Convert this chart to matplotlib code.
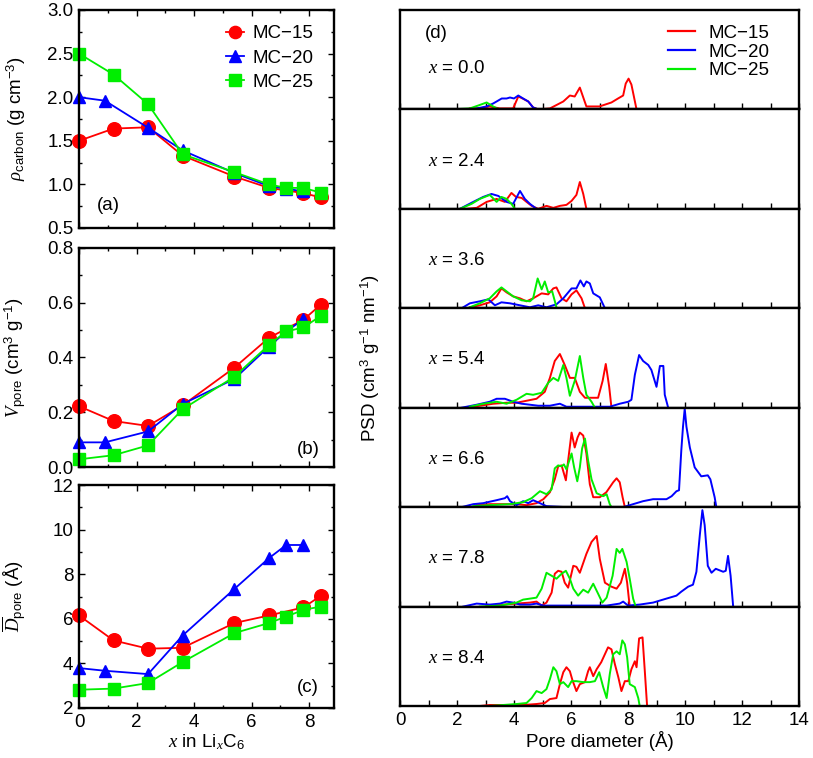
import numpy as np
import matplotlib
matplotlib.use("Agg")
import matplotlib.pyplot as plt
from matplotlib.ticker import MultipleLocator
from matplotlib.lines import Line2D

plt.rcParams['font.family'] = ['Liberation Sans', 'DejaVu Sans']
plt.rcParams['mathtext.fontset'] = 'custom'
plt.rcParams['mathtext.rm'] = 'Liberation Sans'
plt.rcParams['mathtext.it'] = 'Liberation Serif:italic'
plt.rcParams['mathtext.bf'] = 'Liberation Sans:bold'
plt.rcParams['axes.unicode_minus'] = True

RED, BLUE, GREEN = '#ff0000', '#0000ff', '#00ee00'
labels = ['MC\u221215', 'MC\u221220', 'MC\u221225']

# ---------------- Panels (a)-(c) data ----------------
x15 = [0, 1.2, 2.4, 3.6, 5.4, 6.6, 7.8, 8.4]
x20 = [0, 0.9, 2.4, 3.6, 5.4, 6.6, 7.2, 7.8]
x25 = [0, 1.2, 2.4, 3.6, 5.4, 6.6, 7.2, 7.8, 8.4]

rho15 = [1.50, 1.64, 1.655, 1.33, 1.09, 0.96, 0.90, 0.85]
rho20 = [2.00, 1.96, 1.65, 1.39, 1.13, 0.98, 0.95, 0.92]
rho25 = [2.50, 2.26, 1.92, 1.345, 1.14, 1.00, 0.96, 0.96, 0.905]

v15 = [0.222, 0.168, 0.150, 0.225, 0.363, 0.472, 0.538, 0.593]
v20 = [0.090, 0.090, 0.130, 0.230, 0.322, 0.440, 0.495, 0.540]
v25 = [0.028, 0.043, 0.079, 0.211, 0.330, 0.446, 0.495, 0.510, 0.552]

d15 = [6.15, 5.03, 4.66, 4.70, 5.81, 6.15, 6.51, 7.03]
d20 = [3.79, 3.67, 3.52, 5.25, 7.34, 8.72, 9.31, 9.31]
d25 = [2.82, 2.87, 3.12, 4.06, 5.36, 5.81, 6.10, 6.40, 6.55]

# ---------------- Panel (d) data (PSD, arbitrary units) ----------------
comp = ['0.0', '2.4', '3.6', '5.4', '6.6', '7.8', '8.4']

psd = {
 '0.0': {
  'r': ([2.45, 2.8, 3.15, 3.5, 3.97, 4.15, 4.3, 4.5, 4.67, 4.85, 5.26, 5.73, 5.96, 6.13, 6.31, 6.54, 7.0, 7.42, 7.65, 7.83, 7.92, 8.02, 8.12, 8.3],
        [0.01, 0.01, 0.03, 0.01, 0.01, 0.13, 0.11, 0.08, 0.02, 0.0, 0.01, 0.08, 0.14, 0.13, 0.22, 0.03, 0.03, 0.07, 0.11, 0.14, 0.26, 0.31, 0.25, 0.0]),
  'b': ([2.16, 2.69, 3.04, 3.27, 3.45, 3.57, 3.74, 3.86, 4.0, 4.15, 4.32, 4.5, 4.67, 4.85],
        [0.0, 0.01, 0.03, 0.06, 0.09, 0.11, 0.11, 0.12, 0.11, 0.14, 0.11, 0.08, 0.02, 0.0]),
  'g': ([1.75, 2.45, 2.75, 3.04, 3.21, 3.39, 3.56],
        [0.0, 0.01, 0.04, 0.07, 0.04, 0.01, 0.0]),
 },
 '2.4': {
  'r': ([2.34, 2.69, 3.04, 3.39, 3.68, 3.91, 4.07, 4.27, 4.44, 4.62, 4.85, 5.14, 5.38, 5.61, 5.84, 6.02, 6.19, 6.31, 6.43, 6.54],
        [0.0, 0.01, 0.07, 0.10, 0.07, 0.16, 0.12, 0.11, 0.07, 0.03, 0.0, 0.03, 0.01, 0.03, 0.04, 0.08, 0.14, 0.27, 0.15, 0.0]),
  'b': ([2.1, 2.57, 2.92, 3.21, 3.45, 3.74, 3.97, 4.21, 4.38, 4.56, 4.79],
        [0.0, 0.07, 0.12, 0.15, 0.13, 0.07, 0.05, 0.18, 0.10, 0.05, 0.0]),
  'g': ([2.1, 2.51, 2.8, 3.15, 3.39, 3.56, 3.74, 3.91, 4.03],
        [0.0, 0.05, 0.10, 0.14, 0.07, 0.12, 0.10, 0.05, 0.0]),
 },
 '3.6': {
  'r': ([2.45, 2.8, 3.15, 3.39, 3.56, 3.74, 3.97, 4.21, 4.44, 4.67, 4.97, 5.2, 5.38, 5.49, 5.67, 5.84, 6.02, 6.19, 6.37, 6.49],
        [0.01, 0.03, 0.06, 0.12, 0.20, 0.16, 0.12, 0.10, 0.07, 0.10, 0.15, 0.14, 0.20, 0.21, 0.10, 0.07, 0.14, 0.18, 0.10, 0.0]),
  'b': ([2.16, 2.45, 2.8, 3.1, 3.33, 3.56, 3.86, 4.21, 4.56, 4.85, 5.14, 5.49, 5.73, 6.02, 6.19, 6.33, 6.45, 6.54, 6.66, 6.78, 7.01, 7.19],
        [0.0, 0.05, 0.07, 0.09, 0.03, 0.06, 0.05, 0.03, 0.01, 0.03, 0.01, 0.04, 0.10, 0.20, 0.20, 0.28, 0.22, 0.27, 0.25, 0.15, 0.11, 0.0]),
  'g': ([2.45, 2.8, 3.15, 3.39, 3.56, 3.74, 3.97, 4.27, 4.56, 4.67, 4.83, 4.97, 5.08, 5.2, 5.34, 5.49],
        [0.01, 0.05, 0.10, 0.17, 0.21, 0.17, 0.12, 0.08, 0.07, 0.10, 0.30, 0.19, 0.27, 0.16, 0.17, 0.01]),
 },
 '5.4': {
  'r': ([2.34, 2.8, 3.27, 3.74, 4.09, 4.44, 4.79, 5.08, 5.26, 5.43, 5.61, 5.78, 5.96, 6.13, 6.31, 6.49, 6.78, 6.95, 7.11, 7.22, 7.34, 7.42],
        [0.0, 0.02, 0.04, 0.05, 0.05, 0.07, 0.09, 0.16, 0.30, 0.47, 0.54, 0.43, 0.30, 0.30, 0.16, 0.10, 0.10, 0.10, 0.27, 0.44, 0.21, 0.0]),
  'b': ([2.16, 2.69, 3.15, 3.39, 3.68, 3.97, 4.27, 4.56, 4.85, 5.26, 5.61, 5.84, 6.66, 7.36, 7.71, 8.01, 8.12, 8.24, 8.39, 8.53, 8.71, 8.82, 9.0, 9.12, 9.24, 9.29, 9.41],
        [0.0, 0.03, 0.06, 0.09, 0.09, 0.06, 0.04, 0.03, 0.02, 0.02, 0.04, 0.01, 0.01, 0.01, 0.04, 0.06, 0.08, 0.33, 0.53, 0.47, 0.43, 0.38, 0.21, 0.42, 0.42, 0.13, 0.0]),
  'g': ([2.45, 2.92, 3.39, 3.74, 4.09, 4.44, 4.67, 4.97, 5.2, 5.38, 5.55, 5.73, 5.84, 5.96, 6.13, 6.31, 6.43, 6.54, 6.72, 6.84],
        [0.01, 0.04, 0.06, 0.04, 0.08, 0.14, 0.13, 0.15, 0.25, 0.30, 0.27, 0.43, 0.30, 0.12, 0.27, 0.52, 0.30, 0.13, 0.06, 0.0]),
 },
 '6.6': {
  'r': ([2.69, 3.15, 3.62, 4.09, 4.44, 4.79, 5.03, 5.26, 5.43, 5.55, 5.67, 5.82, 5.9, 6.02, 6.13, 6.23, 6.31, 6.43, 6.54, 6.66, 6.78, 7.01, 7.24, 7.48, 7.6, 7.71, 7.81, 7.89],
        [0.02, 0.03, 0.03, 0.03, 0.02, 0.04, 0.08, 0.15, 0.28, 0.41, 0.42, 0.27, 0.47, 0.75, 0.60, 0.70, 0.75, 0.72, 0.54, 0.23, 0.10, 0.10, 0.15, 0.25, 0.29, 0.25, 0.10, 0.0]),
  'b': ([2.16, 2.57, 2.92, 3.39, 3.68, 3.76, 3.86, 4.09, 4.32, 4.5, 4.67, 4.91, 5.14, 5.84, 6.66, 7.83, 8.18, 8.53, 8.88, 9.35, 9.53, 9.7, 9.79, 9.87, 9.93, 9.99, 10.05, 10.17, 10.34, 10.57, 10.8, 10.89, 11.04, 11.1],
        [0.0, 0.03, 0.04, 0.07, 0.09, 0.11, 0.06, 0.02, 0.06, 0.04, 0.07, 0.04, 0.01, 0.0, 0.0, 0.0, 0.03, 0.06, 0.08, 0.08, 0.11, 0.16, 0.17, 0.57, 0.81, 0.99, 0.81, 0.60, 0.40, 0.31, 0.32, 0.28, 0.10, 0.0]),
  'g': ([2.57, 3.15, 3.86, 4.32, 4.62, 4.91, 5.14, 5.32, 5.43, 5.55, 5.67, 5.75, 5.84, 6.02, 6.11, 6.22, 6.31, 6.39, 6.49, 6.6, 6.72, 6.9, 7.13, 7.25, 7.36, 7.42],
        [0.01, 0.02, 0.03, 0.05, 0.09, 0.16, 0.13, 0.18, 0.39, 0.42, 0.41, 0.43, 0.38, 0.54, 0.40, 0.26, 0.40, 0.59, 0.69, 0.47, 0.28, 0.14, 0.11, 0.13, 0.03, 0.0]),
 },
 '7.8': {
  'r': ([3.04, 3.62, 4.09, 4.56, 4.79, 4.97, 5.14, 5.32, 5.43, 5.55, 5.67, 5.78, 5.9, 6.08, 6.19, 6.31, 6.54, 6.72, 6.9, 7.01, 7.19, 7.42, 7.6, 7.75, 7.89, 7.97, 8.06],
        [0.01, 0.02, 0.03, 0.04, 0.05, 0.01, 0.04, 0.14, 0.33, 0.36, 0.35, 0.24, 0.19, 0.41, 0.40, 0.34, 0.53, 0.65, 0.71, 0.48, 0.24, 0.20, 0.18, 0.24, 0.38, 0.24, 0.0]),
  'b': ([2.22, 2.69, 3.15, 3.51, 3.74, 3.97, 4.21, 4.56, 4.79, 5.03, 5.38, 6.08, 7.25, 7.71, 7.83, 8.0, 8.41, 8.88, 9.23, 9.7, 9.87, 10.11, 10.28, 10.4, 10.52, 10.61, 10.69, 10.8, 10.93, 11.08, 11.34, 11.43, 11.51, 11.6, 11.69],
        [0.0, 0.03, 0.02, 0.03, 0.05, 0.04, 0.02, 0.02, 0.03, 0.01, 0.01, 0.01, 0.01, 0.03, 0.05, 0.01, 0.02, 0.04, 0.07, 0.11, 0.15, 0.20, 0.22, 0.35, 0.72, 0.97, 0.82, 0.41, 0.34, 0.38, 0.35, 0.36, 0.51, 0.31, 0.0]),
  'g': ([2.8, 3.51, 4.09, 4.32, 4.56, 4.79, 4.97, 5.14, 5.32, 5.49, 5.67, 5.82, 5.96, 6.08, 6.25, 6.43, 6.6, 6.78, 6.95, 7.1, 7.25, 7.46, 7.6, 7.71, 7.8, 7.95, 8.06, 8.18, 8.27],
        [0.0, 0.01, 0.04, 0.07, 0.08, 0.09, 0.18, 0.34, 0.31, 0.28, 0.33, 0.36, 0.28, 0.18, 0.11, 0.17, 0.14, 0.23, 0.13, 0.04, 0.09, 0.31, 0.58, 0.54, 0.58, 0.45, 0.28, 0.08, 0.0]),
 },
 '8.4': {
  'r': ([2.8, 3.15, 3.74, 4.32, 4.79, 5.08, 5.26, 5.49, 5.61, 5.73, 5.84, 5.96, 6.05, 6.19, 6.31, 6.49, 6.6, 6.66, 6.78, 6.9, 7.06, 7.22, 7.3, 7.42, 7.54, 7.66, 7.77, 7.89, 8.01, 8.12, 8.24, 8.3, 8.39, 8.51, 8.59, 8.67],
        [0.0, 0.01, 0.01, 0.01, 0.02, 0.03, 0.07, 0.08, 0.22, 0.34, 0.39, 0.35, 0.26, 0.15, 0.22, 0.24, 0.35, 0.39, 0.30, 0.37, 0.44, 0.54, 0.59, 0.57, 0.42, 0.29, 0.15, 0.25, 0.25, 0.37, 0.45, 0.39, 0.68, 0.69, 0.35, 0.0]),
  'b': ([], []),
  'g': ([3.15, 3.62, 4.09, 4.44, 4.62, 4.79, 4.97, 5.14, 5.26, 5.38, 5.49, 5.61, 5.73, 5.9, 6.02, 6.19, 6.43, 6.66, 6.84, 6.99, 7.13, 7.25, 7.36, 7.48, 7.6, 7.71, 7.8, 7.89, 7.97, 8.06, 8.24, 8.36, 8.41],
        [0.0, 0.01, 0.02, 0.03, 0.08, 0.15, 0.13, 0.17, 0.27, 0.39, 0.35, 0.22, 0.24, 0.19, 0.25, 0.25, 0.24, 0.24, 0.25, 0.34, 0.19, 0.08, 0.32, 0.52, 0.55, 0.52, 0.66, 0.62, 0.49, 0.22, 0.19, 0.08, 0.0]),
 },
}

# ---------------- Figure ----------------
W, H = 813, 758
fig = plt.figure(figsize=(W / 100, H / 100), dpi=100)

def ax_px(l, t, r, b):
    return fig.add_axes([l / W, 1 - b / H, (r - l) / W, (b - t) / H])

FS = 13.5
SPW = 1.7

def style(ax, labelbottom=True):
    for s in ax.spines.values():
        s.set_linewidth(SPW)
    ax.tick_params(which='both', direction='in', top=True, right=True,
                   labelsize=FS, width=1.0, pad=4)
    ax.tick_params(which='major', length=4.5)
    ax.tick_params(which='minor', length=2.5)
    ax.tick_params(axis='x', labelbottom=labelbottom)

axA = ax_px(79, 10, 334, 228)
axB = ax_px(79, 248, 334, 467)
axC = ax_px(79, 485, 334, 708)

mk = dict(lw=1.3)
ms = {'o': 9.8, '^': 8.8, 's': 9.3}
for ax, (y15, y20, y25) in zip([axA, axB, axC],
                               [(rho15, rho20, rho25), (v15, v20, v25), (d15, d20, d25)]):
    ax.plot(x15, y15, '-o', color=RED, ms=ms['o'], label=labels[0], clip_on=False, **mk)
    ax.plot(x20, y20, '-^', color=BLUE, ms=ms['^'], label=labels[1], clip_on=False, **mk)
    ax.plot(x25, y25, '-s', color=GREEN, ms=ms['s'], label=labels[2], clip_on=False, **mk)
    ax.set_xlim(0, 8.86)
    ax.xaxis.set_major_locator(MultipleLocator(2))
    ax.xaxis.set_minor_locator(MultipleLocator(1))

axA.set_ylim(0.5, 3.0)
axA.yaxis.set_major_locator(MultipleLocator(0.5))
axA.yaxis.set_minor_locator(MultipleLocator(0.25))
axA.yaxis.set_major_formatter(matplotlib.ticker.FormatStrFormatter('%.1f'))
axB.set_ylim(0.0, 0.8)
axB.yaxis.set_major_locator(MultipleLocator(0.2))
axB.yaxis.set_minor_locator(MultipleLocator(0.1))
axB.yaxis.set_major_formatter(matplotlib.ticker.FormatStrFormatter('%.1f'))
axC.set_ylim(2, 12)
axC.yaxis.set_major_locator(MultipleLocator(2))
axC.yaxis.set_minor_locator(MultipleLocator(1))

style(axA, labelbottom=False)
style(axB, labelbottom=False)
style(axC, labelbottom=True)

axA.set_ylabel(r'$\rho_{\mathrm{carbon}}$ (g cm$^{-3}$)', fontsize=FS)
axB.set_ylabel(r'$V_{\mathrm{pore}}$ (cm$^{3}$ g$^{-1}$)', fontsize=FS)
axC.set_ylabel(r'$\overline{D}_{\mathrm{pore}}$ (Å)', fontsize=FS)
axC.set_xlabel(r'$x$ in Li$_{x}$C$_{6}$', fontsize=FS, labelpad=1)
for ax in (axA, axB, axC):
    ax.yaxis.set_label_coords(-0.2, 0.5)

axA.text(0.07, 0.105, '(a)', transform=axA.transAxes, fontsize=FS, va='center', ha='left')
axB.text(0.855, 0.082, '(b)', transform=axB.transAxes, fontsize=FS, va='center', ha='left')
axC.text(0.855, 0.09, '(c)', transform=axC.transAxes, fontsize=FS, va='center', ha='left')

axA.legend(loc='upper left', bbox_to_anchor=(0.575, 0.93), frameon=False, fontsize=FS,
           handlelength=1.0, handletextpad=0.45, labelspacing=0.38, borderpad=0,
           borderaxespad=0, markerscale=0.9)

# ---------------- Panel (d) ----------------
top, bot = 10, 706
n = len(comp)
hpx = (bot - top) / n
axesD = []
for i, c in enumerate(comp):
    t = top + i * hpx
    ax = ax_px(400, t, 799, t + hpx)
    axesD.append(ax)
    for key, col in (('r', RED), ('b', BLUE), ('g', GREEN)):
        xs, ys = psd[c][key]
        if len(xs):
            ax.plot(xs, ys, '-', color=col, lw=1.4)
    ax.set_xlim(0, 14)
    ax.set_ylim(0, 1.0)
    ax.set_yticks([])
    ax.xaxis.set_major_locator(MultipleLocator(2))
    ax.xaxis.set_minor_locator(MultipleLocator(1))
    for s in ax.spines.values():
        s.set_linewidth(SPW)
    ax.tick_params(which='both', direction='in', top=False, bottom=True,
                   labelsize=FS, width=1.0, pad=4)
    ax.tick_params(which='major', length=4)
    ax.tick_params(which='minor', length=4)
    ax.tick_params(axis='x', labelbottom=(i == n - 1))
    ypos = 0.41 if i == 0 else 0.48
    ax.text(0.07, ypos, r'$x$ = ' + c, transform=ax.transAxes, fontsize=FS,
            va='center', ha='left')

axesD[-1].set_xlabel('Pore diameter (Å)', fontsize=FS, labelpad=2)
axesD[0].text(0.063, 0.765, '(d)', transform=axesD[0].transAxes, fontsize=FS,
              va='center', ha='left')
hd = [Line2D([], [], color=RED, lw=1.6), Line2D([], [], color=BLUE, lw=1.6),
      Line2D([], [], color=GREEN, lw=1.6)]
axesD[0].legend(hd, labels, loc='upper left', bbox_to_anchor=(0.672, 0.85),
                frameon=False, fontsize=FS, handlelength=1.45, handletextpad=0.7,
                labelspacing=0.08, borderpad=0, borderaxespad=0)

fig.text(370 / W, 1 - 358 / H, r'PSD (cm$^{3}$ g$^{-1}$ nm$^{-1}$)', rotation=90,
         fontsize=FS, va='center', ha='center')

fig.savefig('out.png', dpi=100)
